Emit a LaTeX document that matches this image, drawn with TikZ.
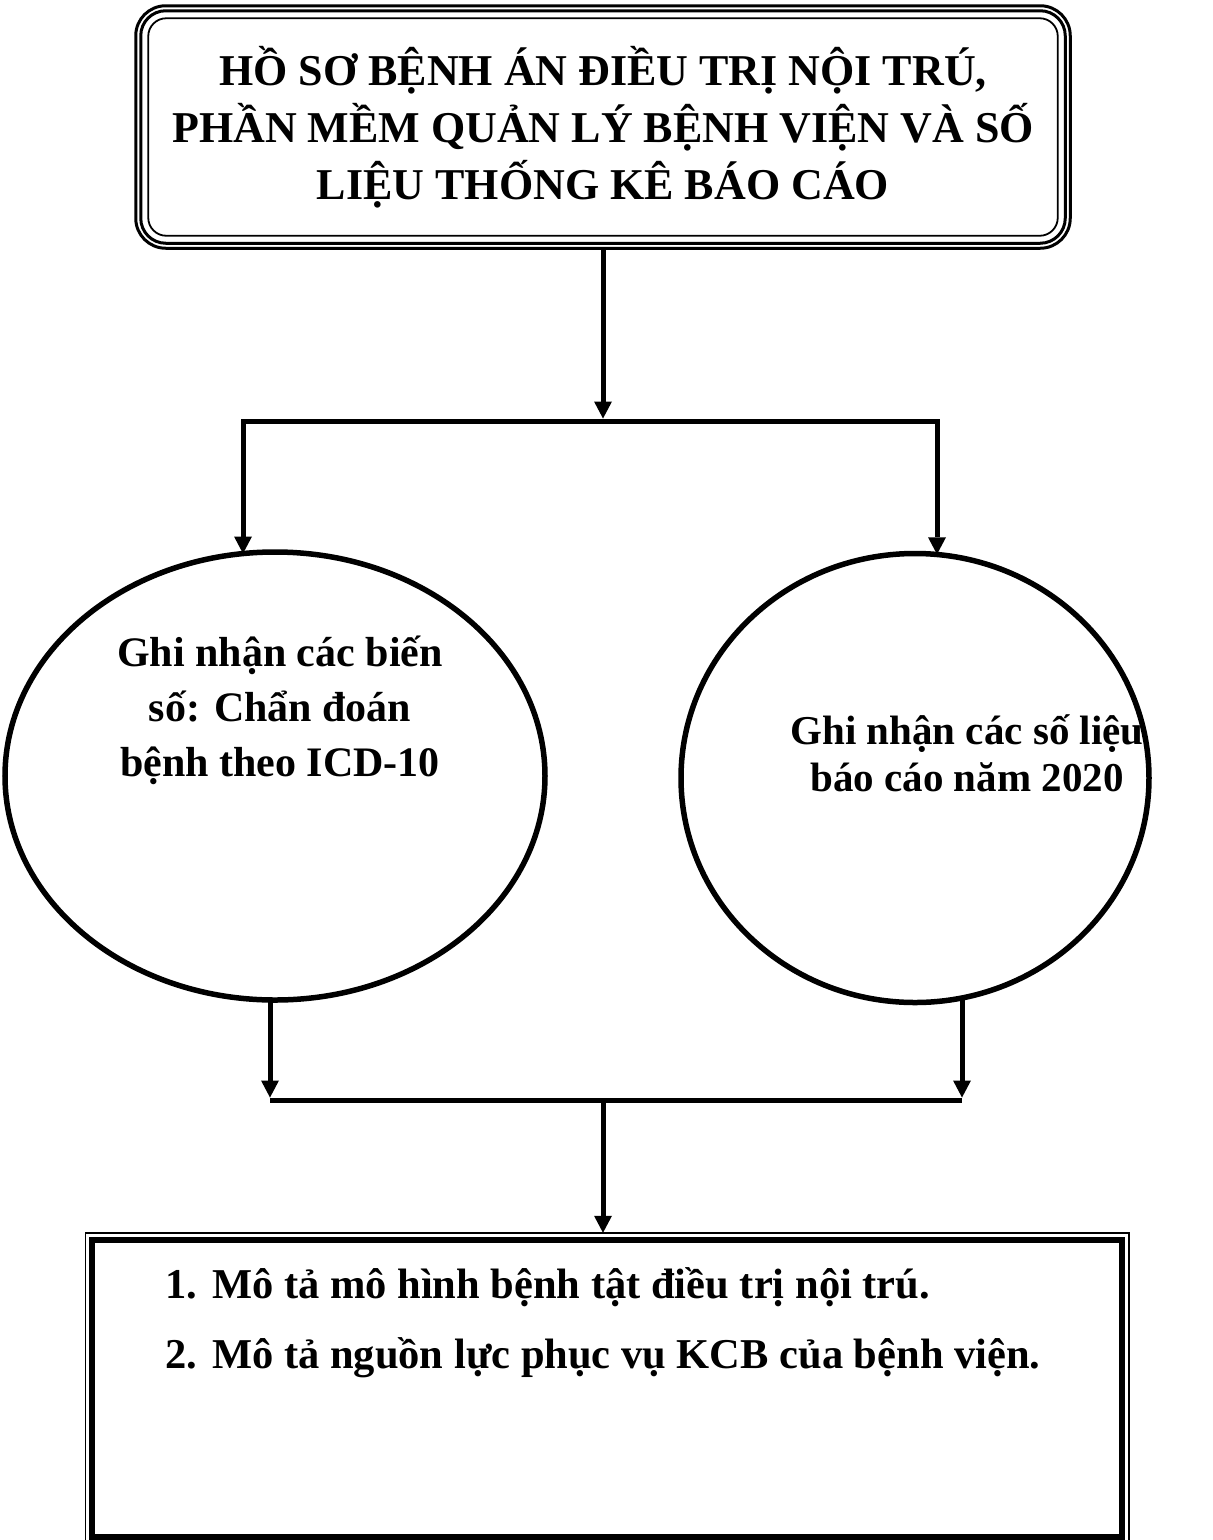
\documentclass[tikz,border=0pt]{standalone}
\usepackage{fontspec}
\setmainfont{Liberation Serif}
\usetikzlibrary{shapes, arrows.meta, positioning, calc}
\tikzset{>={Triangle[width=18pt, length=17pt, line width=0pt]}}
\tikzstyle{titlebox} = [rectangle, minimum width=934.5pt, minimum height=242.5pt,
    outer sep=0pt, align=center, font=\fontsize{44}{57}\selectfont\bfseries]
\tikzstyle{oval} = [draw, ellipse, line width=5.5pt, outer sep=0pt]
\tikzstyle{ovaltext} = [align=center, font=\fontsize{42}{55}\selectfont\bfseries]
\tikzstyle{ovaltextb} = [align=center, font=\fontsize{41}{47}\selectfont\bfseries]
\tikzstyle{resultbox} = [draw, rectangle, line width=6pt, outer sep=6.75pt,
    minimum width=1030pt, minimum height=297.5pt]
\tikzstyle{tasktext} = [anchor=base west, inner sep=0pt, font=\fontsize{42.5}{50}\selectfont\bfseries]
\tikzstyle{flowArrow} = [line width=5pt, ->]
\tikzstyle{flowLine} = [line width=5pt]

\begin{document}
\begin{tikzpicture}[x=1pt, y=-1pt]
	\useasboundingbox (0,0) rectangle (1213,1540);

	\node[titlebox, name=title] at (603,127) (title) {HỒ SƠ BỆNH ÁN ĐIỀU TRỊ NỘI TRÚ,\\ PHẦN MỀM QUẢN LÝ BỆNH VIỆN VÀ SỐ\\ LIỆU THỐNG KÊ BÁO CÁO};
	\foreach \d/\w/\r in {0/3/30, 5/3/25, 12.5/1.8/18}
		\draw[line width=\w pt, rounded corners=\r pt] ($(title.north west)+(\d,\d)$) rectangle ($(title.south east)-(\d,\d)$);

	\node[oval, name=leftell, minimum width=540pt, minimum height=448pt] at (275,776) (leftell) {};
	\node[oval, name=rightell, minimum width=468pt, minimum height=449pt] at (915,778) (rightell) {};
	\node[ovaltext, name=lefttxt] at (280,710) (lefttxt) {Ghi nhận các biến\\ số: Chẩn đoán\\ bệnh theo ICD-10};
	\node[ovaltextb, name=righttxt] at (967,753) (righttxt) {Ghi nhận các số liệu\\ báo cáo năm 2020};

	\coordinate (lt) at (243,421);
	\coordinate (rt) at (937,421);
	\coordinate (mt) at (603,421);
	\draw[flowArrow] (title.south -| mt) -- ([yshift=2.5pt]mt);
	\draw[flowLine, <->] (lt |- leftell.98) -- (lt) -- (rt) -- (rt |- rightell.85);

	\coordinate (lb) at (270,1100);
	\coordinate (rb) at (962,1100);
	\coordinate (mb) at (603,1100);
	\draw[flowArrow] (lb |- leftell.-91) -- ([yshift=2.5pt]lb);
	\draw[flowArrow] (rb |- rightell.-78) -- ([yshift=2.5pt]rb);
	\draw[flowLine] (lb) -- (rb);

	\node[resultbox, name=result] at (607,1388.25) (result) {};
	\draw[line width=1.5pt] (result.north west) rectangle (result.south east);
	\draw[flowArrow] (mb) -- (mb |- result.north);

	\node[tasktext, name=task1] at (165,1298) (task1) {\makebox[47pt][l]{1.}Mô tả mô hình bệnh tật điều trị nội trú.};
	\node[tasktext, name=task2] at (165,1368) (task2) {\makebox[47pt][l]{2.}Mô tả nguồn lực phục vụ KCB của bệnh viện.};
\end{tikzpicture}
\end{document}
